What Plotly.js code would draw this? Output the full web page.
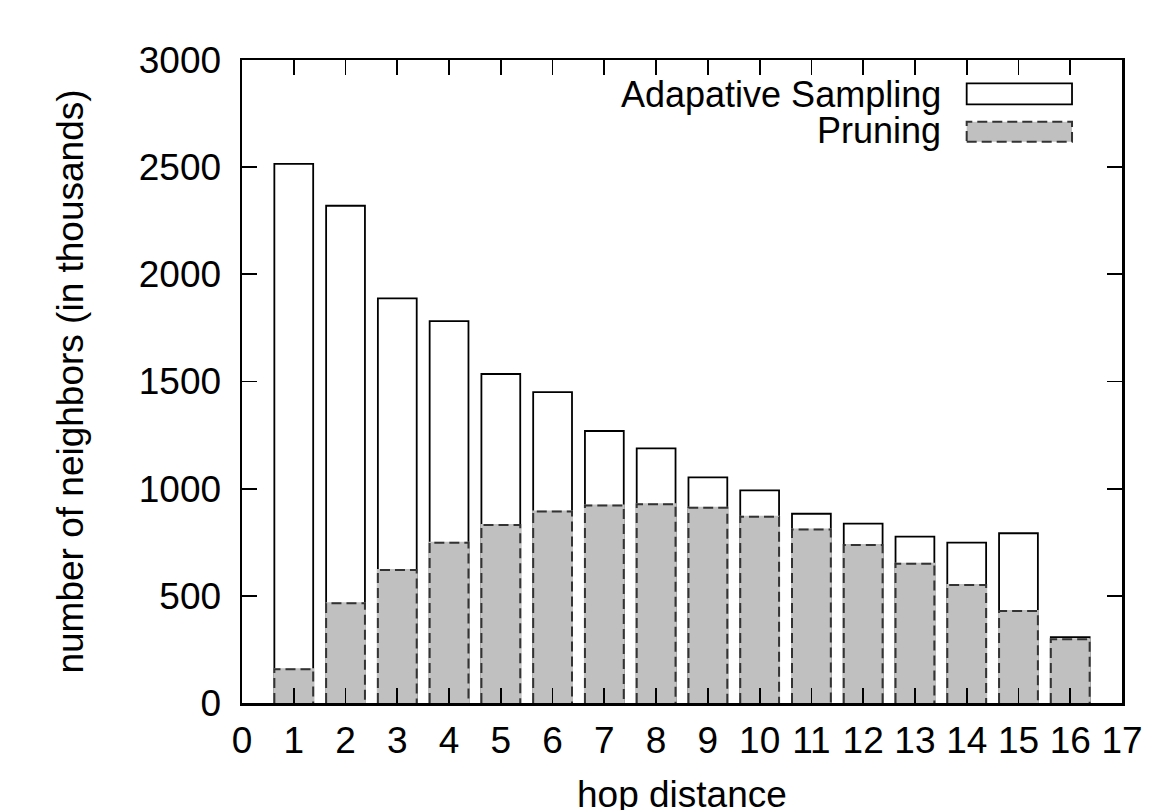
<!DOCTYPE html>
<html>
<head>
<meta charset="utf-8">
<script src="https://cdn.plot.ly/plotly-3.0.1.min.js"></script>
<style>
html,body{margin:0;padding:0;background:#fff;}
#chart{width:1170px;height:810px;}
</style>
</head>
<body>
<div id="chart"></div>
<script>
// ---- data ----
const hops = [1,2,3,4,5,6,7,8,9,10,11,12,13,14,15,16];
const adaptiveSampling = [2515,2320,1888,1782,1535,1450,1269,1188,1053,992,883,837,776,748,792,307];
const pruning = [158,465,620,748,830,893,922,927,911,869,809,737,650,551,429,297];
const seriesNames = ["Adapative Sampling", "Pruning"];
const xTitle = "hop distance";
const yTitle = "number of neighbors (in thousands)";

const barWidth = 0.75;
const FONT = '"Liberation Sans", Arial, Helvetica, sans-serif';
const FS = 37;

// dashed outline for pruning bars built from data
const ox = [], oy = [];
hops.forEach((h, i) => {
  const l = h - barWidth/2, r = h + barWidth/2;
  ox.push(l, l, r, r, null);
  oy.push(0, pruning[i], pruning[i], 0, null);
});

const traces = [
  {type:'bar', x:hops, y:adaptiveSampling, width:barWidth, name:seriesNames[0],
   marker:{color:'#ffffff', line:{color:'#000000', width:1.8}}, hoverinfo:'skip'},
  {type:'bar', x:hops, y:pruning, width:barWidth, name:seriesNames[1],
   marker:{color:'#c0c0c0', line:{color:'#c0c0c0', width:2}}, hoverinfo:'skip'},
  {type:'scatter', mode:'lines', x:ox, y:oy, showlegend:false, hoverinfo:'skip',
   line:{color:'#333333', width:2, dash:'10px,5px'}}
];

const layout = {
  width:1170, height:810,
  margin:{l:242, r:48, t:60, b:107},
  paper_bgcolor:'#ffffff', plot_bgcolor:'#ffffff',
  barmode:'overlay',
  showlegend:false,
  font:{family:FONT, size:FS, color:'#000000'},
  xaxis:{range:[0,17], dtick:1, tick0:0, ticks:'inside', ticklen:15, tickwidth:1.8,
         tickcolor:'#000', showline:true, linecolor:'#000', linewidth:2.5, mirror:'allticks',
         showgrid:false, zeroline:false, ticklabelstandoff:3,
         tickfont:{family:FONT, size:FS, color:'#000'}},
  yaxis:{range:[0,3000], dtick:500, tick0:0, ticks:'inside', ticklen:15, tickwidth:1.8,
         tickcolor:'#000', showline:true, linecolor:'#000', linewidth:2.5, mirror:'allticks',
         showgrid:false, zeroline:false, ticklabelstandoff:11,
         tickfont:{family:FONT, size:FS, color:'#000'},
         title:{text:yTitle, font:{family:FONT, size:FS, color:'#000'}, standoff:44}},
  annotations:[
    {xref:'paper', yref:'paper', x:0.5, y:-0.107, xanchor:'center', yanchor:'top',
     text:xTitle, showarrow:false, font:{family:FONT, size:FS, color:'#000'}},
    {xref:'paper', yref:'paper', x:0.7966, y:0.947, xanchor:'right', yanchor:'middle',
     text:seriesNames[0], showarrow:false, font:{family:FONT, size:36, color:'#000'}},
    {xref:'paper', yref:'paper', x:0.7966, y:0.890, xanchor:'right', yanchor:'middle',
     text:seriesNames[1], showarrow:false, font:{family:FONT, size:36, color:'#000'}}
  ],
  shapes:[
    {type:'rect', xref:'paper', yref:'paper', x0:0.8235, x1:0.9432, y0:0.931, y1:0.9638,
     fillcolor:'#ffffff', line:{color:'#000', width:1.8}},
    {type:'rect', xref:'paper', yref:'paper', x0:0.8235, x1:0.9432, y0:0.873, y1:0.904,
     fillcolor:'#c0c0c0', line:{color:'#333333', width:2, dash:'10px,5px'}}
  ]
};

Plotly.newPlot('chart', traces, layout, {displayModeBar:false, staticPlot:true});
</script>
</body>
</html>
